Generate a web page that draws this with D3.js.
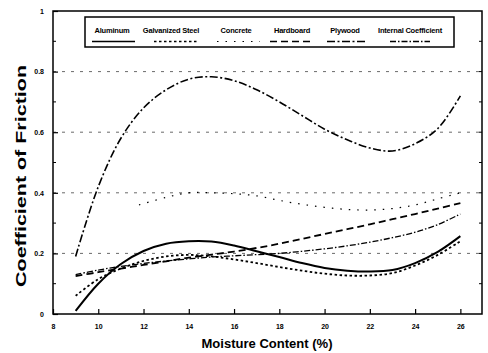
<!DOCTYPE html>
<html>
<head>
<meta charset="utf-8">
<script src="https://cdn.jsdelivr.net/npm/d3@7"></script>
<style>
  body { margin: 0; background: #fff; }
  text { font-family: "Liberation Sans", Arial, sans-serif; font-weight: bold; fill: #000; }
</style>
</head>
<body>
<script>
// moisture content values (%), one per reading
var moisture = [9, 10, 11, 12, 13, 14, 15, 16, 17, 18, 19, 20, 21, 22, 23, 24, 25, 26];

// coefficient of friction per surface
var aluminum   = [0.01, 0.10, 0.165, 0.208, 0.232, 0.240, 0.239, 0.226, 0.207, 0.188, 0.168, 0.152, 0.143, 0.140, 0.145, 0.168, 0.205, 0.257];
var galvanized = [0.06, 0.115, 0.150, 0.175, 0.190, 0.195, 0.190, 0.180, 0.168, 0.155, 0.143, 0.133, 0.127, 0.127, 0.135, 0.160, 0.195, 0.240];
var hardboard  = [0.125, 0.138, 0.150, 0.162, 0.174, 0.186, 0.196, 0.206, 0.218, 0.232, 0.248, 0.264, 0.280, 0.296, 0.313, 0.330, 0.348, 0.366];
var plywood    = [0.19, 0.42, 0.58, 0.68, 0.74, 0.775, 0.783, 0.770, 0.740, 0.700, 0.655, 0.610, 0.575, 0.548, 0.538, 0.562, 0.612, 0.720];
var internal   = [0.13, 0.145, 0.157, 0.167, 0.175, 0.182, 0.188, 0.192, 0.196, 0.200, 0.207, 0.215, 0.225, 0.237, 0.252, 0.270, 0.295, 0.330];

// concrete only shows from about 12% on
var concreteX  = [11.8, 13, 14, 15, 16, 17, 18, 19, 20, 21, 22, 23, 24, 25, 26];
var concrete   = [0.36, 0.385, 0.40, 0.40, 0.397, 0.39, 0.375, 0.362, 0.352, 0.345, 0.343, 0.348, 0.36, 0.38, 0.40];

var xTicks = [8, 10, 12, 14, 16, 18, 20, 22, 24, 26];
var yTicks = [0, 0.2, 0.4, 0.6, 0.8, 1];
var yTickLabels = ["0", "0.2", "0.4", "0.6", "0.8", "1"];
var gridValues = [0.2, 0.4, 0.6, 0.8];

var width = 488,
    height = 353;

var svg = d3.select("body")
    .append("svg")
    .attr("width", width)
    .attr("height", height);

//plot frame edges
var plotLeft = 53, plotRight = 482, plotTop = 11, plotBottom = 314;

var x = d3.scaleLinear().domain([8, 27]).range([plotLeft, plotRight + 1]);
var y = d3.scaleLinear().domain([0, 1]).range([plotBottom, plotTop]);

//dotted gridlines
svg.selectAll(".grid")
    .data(gridValues)
    .enter()
    .append("line")
    .attr("x1", plotLeft)
    .attr("x2", plotRight)
    .attr("y1", function(d){ return y(d); })
    .attr("y2", function(d){ return y(d); })
    .attr("stroke", "#444")
    .attr("stroke-width", 0.8)
    .attr("stroke-dasharray", "3 6");

//frame
svg.append("rect")
    .attr("x", plotLeft)
    .attr("y", plotTop)
    .attr("width", plotRight - plotLeft)
    .attr("height", plotBottom - plotTop)
    .attr("fill", "none")
    .attr("stroke", "#000")
    .attr("stroke-width", 1.5);

//x axis ticks (inside) and labels
var xAxis = d3.axisBottom(x)
    .tickValues(xTicks)
    .tickSize(-5)
    .tickPadding(10)
    .tickFormat(d3.format("d"));
var gx = svg.append("g")
    .attr("transform", "translate(0," + plotBottom + ")")
    .call(xAxis);
gx.select(".domain").remove();
gx.selectAll("line").attr("stroke-width", 1.2);
gx.selectAll("text")
    .style("font-size", "7px")
    .style("font-weight", "bold")
    .style("font-family", "Liberation Sans, Arial, sans-serif");

//y axis: major ticks labelled, minor at 0.1
var yAxis = d3.axisLeft(y)
    .tickValues(yTicks)
    .tickSize(-5)
    .tickPadding(9)
    .tickFormat(function(d, i){ return yTickLabels[i]; });
var gy = svg.append("g")
    .attr("transform", "translate(" + plotLeft + ",0)")
    .call(yAxis);
gy.select(".domain").remove();
gy.selectAll("line").attr("stroke-width", 1.2);
gy.selectAll("text")
    .style("font-size", "7px")
    .style("font-weight", "bold")
    .style("font-family", "Liberation Sans, Arial, sans-serif");

var minor = d3.range(1, 10, 2).map(function(d){ return d / 10; });
svg.selectAll(".ymin")
    .data(minor)
    .enter()
    .append("line")
    .attr("x1", plotLeft)
    .attr("x2", plotLeft + 3)
    .attr("y1", function(d){ return y(d); })
    .attr("y2", function(d){ return y(d); })
    .attr("stroke", "#000");

//right side ticks
svg.selectAll(".yright")
    .data(d3.range(1, 10).map(function(d){ return d / 10; }))
    .enter()
    .append("line")
    .attr("x1", plotRight)
    .attr("x2", plotRight - 3)
    .attr("y1", function(d){ return y(d); })
    .attr("y2", function(d){ return y(d); })
    .attr("stroke", "#000");

//axis titles
svg.append("text")
    .attr("x", 267)
    .attr("y", 348)
    .attr("text-anchor", "middle")
    .style("font-size", "12px")
    .attr("textLength", 131)
    .attr("lengthAdjust", "spacingAndGlyphs")
    .text("Moisture Content (%)");

svg.append("text")
    .attr("transform", "translate(26,176) rotate(-90)")
    .attr("text-anchor", "middle")
    .style("font-size", "15px")
    .attr("textLength", 222)
    .attr("lengthAdjust", "spacingAndGlyphs")
    .text("Coefficient of Friction");

//series
var series = [
    {name: "Aluminum", xs: moisture, ys: aluminum, dash: null, w: 2, lx: [92, 135], tx: 112},
    {name: "Galvanized Steel", xs: moisture, ys: galvanized, dash: "2.5 2.5", w: 1.8, lx: [154, 197], tx: 171},
    {name: "Concrete", xs: concreteX, ys: concrete, dash: "1.5 7", w: 1.2, lx: [217, 260], tx: 236},
    {name: "Hardboard", xs: moisture, ys: hardboard, dash: "7 4", w: 1.8, lx: [270, 310], tx: 292},
    {name: "Plywood", xs: moisture, ys: plywood, dash: "8 2.5 2 2.5", w: 1.6, lx: [327, 365], tx: 345},
    {name: "Internal Coefficient", xs: moisture, ys: internal, dash: "6 2 1.5 2", w: 1.3, lx: [390, 430], tx: 410}
];

var line = d3.line()
    .x(function(d){ return x(d[0]); })
    .y(function(d){ return y(d[1]); })
    .curve(d3.curveCatmullRom.alpha(0.5));

svg.selectAll(".series")
    .data(series)
    .enter()
    .append("path")
    .attr("class", "series")
    .attr("d", function(s){ return line(d3.zip(s.xs, s.ys)); })
    .attr("fill", "none")
    .attr("stroke", "#000")
    .attr("stroke-width", function(s){ return s.w; })
    .attr("stroke-dasharray", function(s){ return s.dash; });

//legend
svg.append("rect")
    .attr("x", 85)
    .attr("y", 17)
    .attr("width", 369)
    .attr("height", 30)
    .attr("fill", "#fff")
    .attr("stroke", "#000")
    .attr("stroke-width", 1.5);

var leg = svg.selectAll(".leg")
    .data(series)
    .enter()
    .append("g");

leg.append("text")
    .attr("x", function(s){ return s.tx; })
    .attr("y", 33)
    .attr("text-anchor", "middle")
    .style("font-size", "7.5px")
    .style("letter-spacing", "-0.2px")
    .text(function(s){ return s.name; });

leg.append("line")
    .attr("x1", function(s){ return s.lx[0]; })
    .attr("x2", function(s){ return s.lx[1]; })
    .attr("y1", 41.5)
    .attr("y2", 41.5)
    .attr("stroke", "#000")
    .attr("stroke-width", function(s){ return Math.min(s.w, 1.5); })
    .attr("stroke-dasharray", function(s){ return s.dash; });
</script>
</body>
</html>
